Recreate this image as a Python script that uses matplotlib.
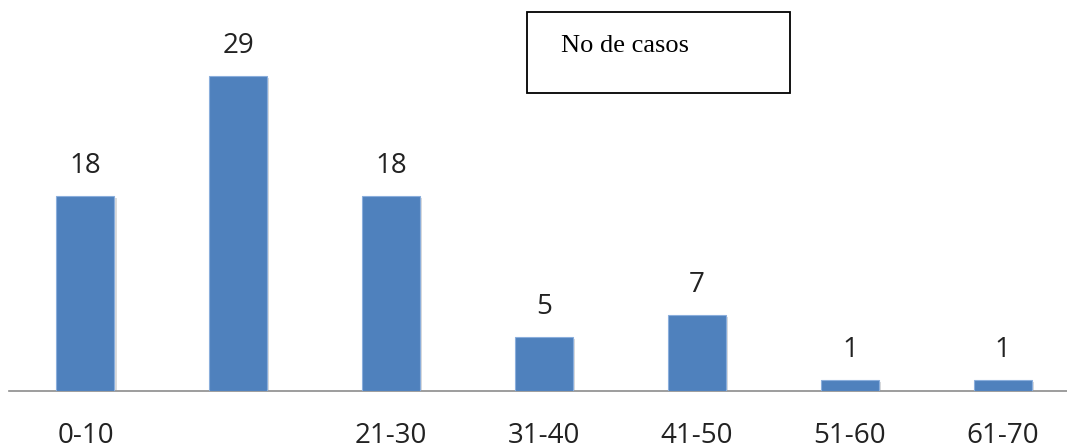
import matplotlib
matplotlib.use("Agg")
import matplotlib.pyplot as plt
from matplotlib.patches import Rectangle
import matplotlib.patheffects as pe

# Age groups and number of cases
categories = ["0-10", "11-20", "21-30", "31-40", "41-50", "51-60", "61-70"]
tick_labels = ["0-10", "", "21-30", "31-40", "41-50", "51-60", "61-70"]
cases = [18, 29, 18, 5, 7, 1, 1]
legend_label = "No de casos"

W, H, DPI = 1067, 446, 100
fig = plt.figure(figsize=(W / DPI, H / DPI), dpi=DPI)
fig.patch.set_facecolor("white")

ax = fig.add_axes([9 / W, (H - 391) / H, (W - 9) / W, 391 / H])
positions = list(range(len(categories)))

bars = ax.bar(positions, cases, width=0.38, color="#4F81BD",
              edgecolor="#8AAEDC", linewidth=0.8, zorder=3)
for b in bars:
    b.set_path_effects([
        pe.SimplePatchShadow(offset=(1.5, -1.5), shadow_rgbFace="#9a9a9a", alpha=0.35),
        pe.Normal(),
    ])

for x, v in zip(positions, cases):
    ax.annotate(str(v), (x, v), xytext=(0, 11.5), textcoords="offset points",
                ha="center", va="bottom", fontsize=20, family="Open Sans",
                color="#222222")

ax.set_xlim(-0.5, 6.42)
ax.set_ylim(0, 36)
ax.set_xticks(positions)
ax.set_xticklabels(tick_labels, fontsize=20, family="Open Sans", color="#222222")
ax.tick_params(axis="x", length=0, pad=22)
ax.set_yticks([])
for side in ("top", "right", "left"):
    ax.spines[side].set_visible(False)
ax.spines["bottom"].set_color("#8c8c8c")
ax.spines["bottom"].set_linewidth(1.2)

# Series label box
fig.patches.append(Rectangle((527 / W, 1 - 93 / H), (790 - 527) / W, (93 - 12) / H,
                             transform=fig.transFigure, facecolor="white",
                             edgecolor="black", linewidth=1.3, zorder=5))
fig.text(561 / W, 1 - 46 / H, legend_label, family="Liberation Serif",
         fontsize=19, ha="left", va="center", color="black", zorder=6)

fig.savefig("out.png", dpi=DPI)
